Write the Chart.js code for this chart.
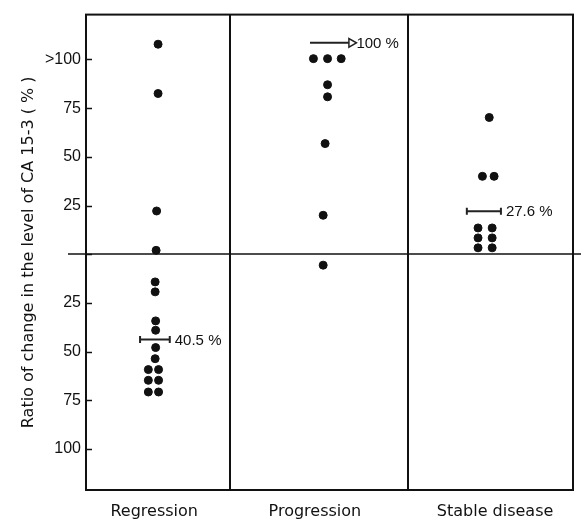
<!DOCTYPE html>
<html>
<head>
<meta charset="utf-8">
<script src="https://cdn.jsdelivr.net/npm/chart.js@4/dist/chart.umd.min.js"></script>
<style>
  html, body { margin: 0; padding: 0; background: #fff; }
  #wrap { position: relative; width: 581px; height: 523px; }
</style>
</head>
<body>
<div id="wrap"><canvas id="chart"></canvas></div>
<script>
// groups and where they sit on the x axis (percent of plot width)
const groups = ['Regression', 'Progression', 'Stable disease'];
const groupCenters = [14.0, 47.0, 84.0];
const columnEdges = [0, 29.6, 66.1, 100];

// y: ratio of change (%), decreases drawn below zero
const yTicks = [-100, -75, -50, -25, 0, 25, 50, 75, 100];

const regressionX = [14.8, 14.8, 14.5, 14.4, 14.2, 14.2, 14.3, 14.3, 14.3, 14.2, 12.8, 14.9, 12.8, 14.9, 12.8, 14.9];
const regressionY = [107.8, 82.5, 22.2, 2, -14.2, -19.3, -34.2, -39, -47.9, -53.6, -59.2, -59.2, -64.7, -64.7, -70.7, -70.7];

const progressionX = [46.7, 49.6, 52.4, 49.6, 49.6, 49.1, 48.7, 48.7];
const progressionY = [100.4, 100.4, 100.4, 87, 80.8, 56.8, 20, -5.6];

const stableX = [82.8, 81.4, 83.8, 80.5, 83.4, 80.5, 83.4, 80.5, 83.4];
const stableY = [70.2, 40, 40, 13.5, 13.5, 8.4, 8.4, 3.3, 3.3];

// mean markers
const meanY = [-43.8, 108.5, 22.1];
const meanX0 = [11.1, 46.0, 78.2];
const meanX1 = [17.2, 54.5, 85.2];
const meanLabels = ['40.5 %', '100 %', '27.6 %'];

const pts = (xs, ys) => xs.map((x, i) => ({ x, y: ys[i] }));

const dotStyle = {
  type: 'scatter',
  backgroundColor: '#111',
  borderColor: '#111',
  pointRadius: 4,
  pointHoverRadius: 4
};

const meanSets = meanY.map((y, i) => {
  const isArrow = i === 1;
  return {
    type: 'line',
    data: [{ x: meanX0[i], y }, { x: meanX1[i], y }],
    borderColor: '#222',
    borderWidth: 2,
    pointStyle: isArrow ? [false, 'triangle'] : 'line',
    rotation: 90,
    pointRadius: isArrow ? [0, 5] : 3.5,
    pointBorderWidth: isArrow ? 1.5 : 2,
    pointBorderColor: '#222',
    pointBackgroundColor: '#fff'
  };
});

const frame = {
  id: 'frame',
  beforeDatasetsDraw(chart) {
    const { ctx, chartArea: a, scales: { x, y } } = chart;
    ctx.save();
    ctx.strokeStyle = '#111';
    ctx.lineWidth = 2;
    ctx.strokeRect(a.left, a.top, a.right - a.left, a.bottom - a.top);
    columnEdges.slice(1, -1).forEach(e => {
      const px = Math.round(x.getPixelForValue(e));
      ctx.beginPath();
      ctx.moveTo(px, a.top);
      ctx.lineTo(px, a.bottom);
      ctx.stroke();
    });
    // tick marks point into the plot
    ctx.lineWidth = 1.5;
    yTicks.forEach(v => {
      const py = Math.round(y.getPixelForValue(v)) + 0.5;
      ctx.beginPath();
      ctx.moveTo(a.left, py);
      ctx.lineTo(a.left + 6, py);
      ctx.stroke();
    });
    const y0 = Math.round(y.getPixelForValue(0));
    ctx.beginPath();
    ctx.moveTo(a.left - 18, y0);
    ctx.lineTo(chart.width, y0);
    ctx.stroke();
    ctx.restore();
  },
  afterDatasetsDraw(chart) {
    const { ctx, scales: { x, y } } = chart;
    ctx.save();
    ctx.fillStyle = '#111';
    ctx.font = '15px "Liberation Sans"';
    ctx.textBaseline = 'middle';
    meanLabels.forEach((t, i) => {
      ctx.fillText(t, x.getPixelForValue(meanX1[i]) + 5, y.getPixelForValue(meanY[i]) + 1);
    });
    ctx.restore();
  }
};

new Chart(document.getElementById('chart'), {
  data: {
    datasets: [
      { ...dotStyle, data: pts(regressionX, regressionY) },
      { ...dotStyle, data: pts(progressionX, progressionY) },
      { ...dotStyle, data: pts(stableX, stableY) },
      ...meanSets
    ]
  },
  options: {
    responsive: true,
    maintainAspectRatio: false,
    animation: false,
    layout: { padding: { top: 14, right: 8, left: 0, bottom: 0 } },
    plugins: { legend: { display: false }, tooltip: { enabled: false } },
    scales: {
      x: {
        type: 'linear',
        min: 0,
        max: 100,
        afterFit: s => { s.height = 33; },
        afterBuildTicks: s => { s.ticks = groupCenters.map(v => ({ value: v })); },
        grid: { display: false, drawTicks: false },
        border: { display: false },
        ticks: {
          autoSkip: false,
          maxRotation: 0,
          padding: 12,
          color: '#111',
          font: { family: 'DejaVu Sans', size: 16 },
          callback: (v, i) => groups[i]
        }
      },
      y: {
        type: 'linear',
        min: -121,
        max: 123,
        afterFit: s => { s.width = 86; },
        afterBuildTicks: s => { s.ticks = yTicks.map(v => ({ value: v })); },
        grid: { display: false, drawTicks: false },
        border: { display: false },
        ticks: {
          padding: 5,
          color: '#111',
          font: { family: 'Liberation Sans', size: 16 },
          callback: v => v === 0 ? '' : (v === 100 ? '>100' : String(Math.abs(v)))
        },
        title: {
          display: true,
          text: 'Ratio of change in the level of CA 15-3 ( % )',
          color: '#111',
          font: { family: 'DejaVu Sans', size: 16 },
          padding: { top: 19, bottom: 0 }
        }
      }
    }
  },
  plugins: [frame]
});
</script>
</body>
</html>
